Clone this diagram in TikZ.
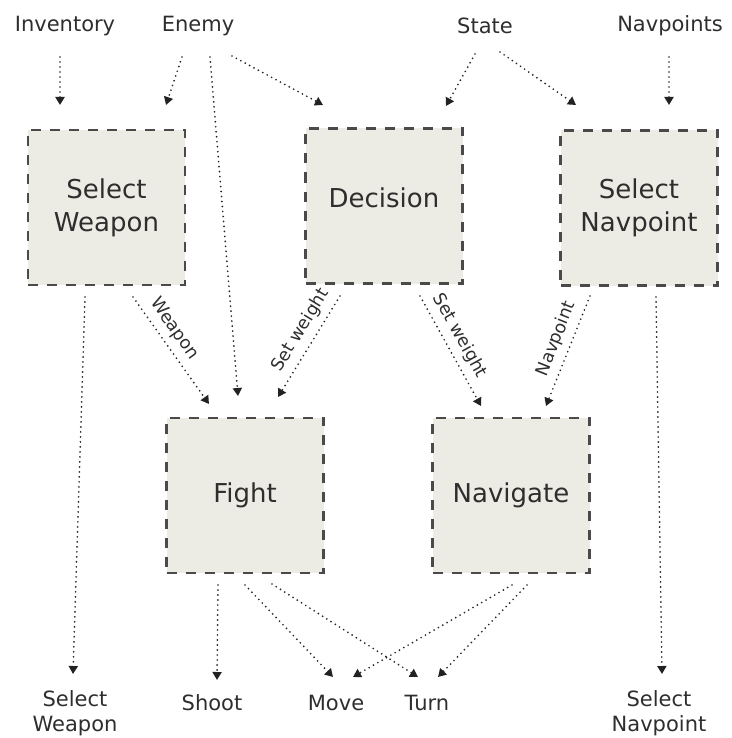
\documentclass[tikz,border=0pt]{standalone}
\usepackage{fontspec}
\setmainfont{DejaVu Sans}
\usetikzlibrary{arrows.meta}

\definecolor{boxfill}{HTML}{EDECE4}
\definecolor{boxline}{HTML}{4A4A4A}
\definecolor{flowline}{HTML}{222222}
\definecolor{inktext}{HTML}{2E2E2E}

\tikzset{
  module/.style={draw=boxline, fill=boxfill, line width=2.4pt,
    dash pattern=on 10pt off 9pt, minimum width=157pt, minimum height=155pt,
    align=center, inner sep=0pt, text=inktext, font=\fontsize{26}{33}\selectfont},
  signal/.style={inner sep=0pt, align=center, text=inktext, font=\fontsize{21}{25}\selectfont},
  flow/.style={draw=flowline, line width=1.9pt, dash pattern=on 0pt off 5pt,
    line cap=round, -{Triangle[width=9pt,length=8pt,line cap=butt]}},
  flowlabel/.style={sloped, above=5pt, inner sep=1pt, text=inktext,
    font=\fontsize{17.5}{20}\selectfont}
}

\begin{document}
\begin{tikzpicture}[x=1pt, y=-1pt]
\useasboundingbox (0,0) rectangle (731,738);

% input signals
\node[signal] (inv)   at (65,26)  {Inventory};
\node[signal] (enemy) at (198,26) {Enemy};
\node[signal] (state) at (485,26) {State};
\node[signal] (navp)  at (670,26) {Navpoints};

% behaviour modules
\node[module] (sw)    at (106.5,207.5) {Select\\Weapon};
\node[module, text depth=16pt] (dec) at (384,206) {Decision};
\node[module, text depth=6pt] (sn) at (639,208) {Select\\Navpoint};
\node[module] (fight) at (245,495.5) {Fight};
\node[module] (nav)   at (511,495.5) {Navigate};

% output signals
\node[signal] (osw)   at (75,713)  {Select\\Weapon};
\node[signal] (shoot) at (212,703) {Shoot};
\node[signal] (move)  at (336,703) {Move};
\node[signal] (turn)  at (427,703) {Turn};
\node[signal] (osn)   at (659,713) {Select\\Navpoint};

% inputs into the modules
\draw[flow] ([shift={(-5,31)}]inv.center)    -- ([shift={(-46.5,-102.5)}]sw.center);
\draw[flow] ([shift={(-16,31)}]enemy.center) -- ([shift={(59.5,-102.5)}]sw.center);
\draw[flow] ([shift={(12,31)}]enemy.center)  -- ([shift={(-7,-99.5)}]fight.center);
\draw[flow] ([shift={(34,30)}]enemy.center)  -- ([shift={(-61,-101)}]dec.center);
\draw[flow] ([shift={(-10,28)}]state.center) -- ([shift={(62,-100)}]dec.center);
\draw[flow] ([shift={(15,26)}]state.center)  -- ([shift={(-63,-103)}]sn.center);
\draw[flow] ([shift={(-1,31)}]navp.center)   -- ([shift={(30,-103)}]sn.center);

% links between modules
\draw[flow] ([shift={(26.5,89.5)}]sw.center) -- node[flowlabel, pos=0.38] {Weapon}
            ([shift={(-36,-91.5)}]fight.center);
\draw[flow] ([shift={(-44,90)}]dec.center) -- node[flowlabel, pos=0.42] {Set weight}
            ([shift={(33,-98.5)}]fight.center);
\draw[flow] ([shift={(36,90)}]dec.center) -- node[flowlabel, pos=0.43] {Set weight}
            ([shift={(-30,-89.5)}]nav.center);
\draw[flow] ([shift={(-49,88)}]sn.center) -- node[flowlabel, pos=0.44] {Navpoint}
            ([shift={(35,-89.5)}]nav.center);

% module outputs
\draw[flow] ([shift={(-21.5,89.5)}]sw.center) -- ([shift={(-2,-39)}]osw.center);
\draw[flow] ([shift={(17,89)}]sn.center)      -- ([shift={(3,-39)}]osn.center);
\draw[flow] ([shift={(-27,89.5)}]fight.center) -- ([shift={(5,-23)}]shoot.center);
\draw[flow] ([shift={(0,89.5)}]fight.center)   -- ([shift={(-3,-26)}]move.center);
\draw[flow] ([shift={(27,88.5)}]fight.center)  -- ([shift={(-9,-26)}]turn.center);
\draw[flow] ([shift={(1,89.5)}]nav.center)     -- ([shift={(17,-26)}]move.center);
\draw[flow] ([shift={(16,89.5)}]nav.center)    -- ([shift={(11,-26)}]turn.center);
\end{tikzpicture}
\end{document}
